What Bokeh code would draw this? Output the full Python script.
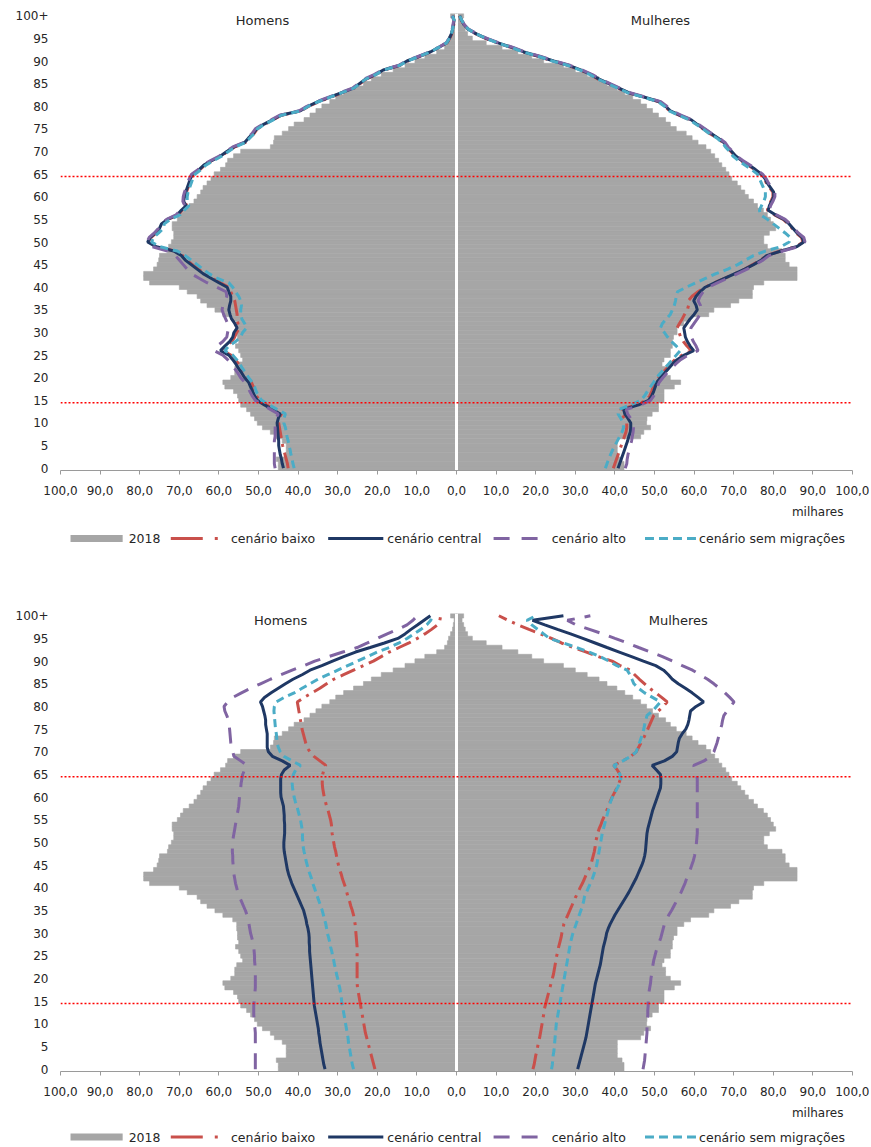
from bokeh.plotting import figure
from bokeh.models import Range1d, FixedTicker, Span, Label, Title, ColumnDataSource
from bokeh.layouts import column
from bokeh.embed import file_html
from bokeh.resources import INLINE
from bokeh.core.properties import value

AGES = list(range(101))
X_TICKS = list(range(-100, 101, 10))
Y_TICKS = list(range(0, 101, 5))
SERIES = ["cenário baixo", "cenário central", "cenário alto", "cenário sem migrações"]

MALE_2018 = [
    45.0, 45.0, 45.5, 43.0, 43.0, 43.0, 44.0, 46.0, 47.0, 49.0,
    50.3, 51.0, 52.0, 53.0, 54.5, 55.0, 55.3, 56.3, 58.5, 59.0,
    57.0, 56.0, 56.0, 55.5, 54.0, 54.5, 55.0, 55.8, 55.0, 55.3,
    55.3, 55.5, 55.5, 56.5, 59.0, 61.0, 63.0, 64.6, 65.5, 68.0,
    70.0, 77.5, 79.0, 79.0, 76.5, 75.6, 75.2, 75.0, 73.0, 72.7,
    72.0, 71.4, 71.4, 71.8, 71.8, 70.5, 69.7, 69.0, 67.5, 66.3,
    65.5, 64.6, 64.0, 63.0, 62.0, 61.2, 59.6, 58.3, 57.8, 56.3,
    54.5, 47.0, 46.2, 46.0, 44.0, 42.4, 41.0, 38.5, 37.0, 35.5,
    34.0, 32.0, 30.5, 28.5, 26.0, 23.5, 21.5, 19.0, 16.0, 13.0,
    10.5, 8.0, 5.0, 3.0, 2.3, 2.0, 1.5, 1.0, 0.8, 0.6, 1.5]
FEMALE_2018 = [
    42.3, 42.3, 41.8, 40.6, 40.6, 40.6, 40.6, 46.5, 47.3, 49.0,
    48.0, 48.1, 49.4, 51.0, 51.0, 52.4, 52.4, 52.4, 55.0, 56.6,
    54.0, 52.8, 52.8, 51.9, 52.4, 54.0, 54.0, 54.5, 54.5, 54.8,
    55.7, 55.7, 57.4, 59.1, 63.7, 65.0, 69.2, 71.3, 74.7, 74.7,
    75.0, 77.6, 86.0, 86.0, 86.0, 84.0, 83.0, 83.0, 82.2, 78.5,
    77.6, 77.6, 79.0, 80.6, 80.0, 79.3, 78.5, 77.5, 76.0, 75.0,
    73.7, 72.8, 71.8, 70.9, 69.5, 68.8, 68.0, 67.0, 66.2, 65.2,
    64.2, 63.0, 61.0, 59.5, 58.0, 55.5, 54.0, 52.8, 51.0, 49.5,
    48.0, 46.5, 44.5, 42.5, 40.5, 38.0, 36.0, 33.0, 30.0, 27.0,
    22.0, 19.0, 15.5, 11.5, 7.5, 4.0, 2.8, 2.2, 1.8, 1.4, 1.8]

# ---- first pyramid: projection lines ----
TOP_M_BAIXO = [
    42.5, 42.7, 43.0, 43.3, 43.6, 43.9, 44.1, 44.3, 44.5, 44.7,
    44.9, 44.7, 44.2, 46.0, 48.0, 49.8, 50.5, 51.0, 51.3, 51.8,
    52.8, 53.5, 54.3, 55.0, 55.8, 57.0, 59.0, 58.0, 56.8, 56.0,
    55.5, 54.8, 55.2, 55.5, 55.4, 55.6, 55.8, 56.0, 56.5, 57.0,
    57.5, 59.6, 61.6, 63.6, 65.2, 66.7, 68.2, 69.2, 71.2, 75.8,
    77.8, 77.1, 75.8, 74.8, 74.3, 72.8, 70.3, 69.3, 68.1, 68.7,
    68.5, 68.2, 67.8, 67.4, 67.0, 66.4, 64.8, 63.6, 61.6, 59.4,
    57.8, 56.0, 53.3, 52.3, 51.1, 50.3, 48.5, 46.3, 44.2, 39.2,
    37.3, 34.8, 31.8, 28.8, 25.8, 24.3, 22.8, 20.3, 18.3, 14.3,
    12.3, 9.3, 6.5, 4.4, 2.4, 1.7, 1.2, 0.9, 0.7, 0.5, 0.9]
TOP_M_CENTRAL = [
    43.7, 44.0, 44.2, 44.5, 44.7, 44.9, 44.9, 45.0, 45.1, 45.2,
    45.3, 45.0, 44.5, 46.5, 48.5, 50.3, 51.0, 51.5, 52.0, 52.5,
    53.5, 54.2, 55.0, 55.7, 56.5, 57.5, 59.6, 58.5, 57.3, 56.5,
    56.2, 55.4, 56.0, 56.8, 57.2, 57.5, 57.3, 57.0, 57.0, 57.5,
    57.9, 60.0, 62.0, 64.0, 65.5, 67.0, 68.5, 69.5, 71.4, 76.0,
    78.0, 77.3, 76.0, 75.0, 74.5, 73.0, 70.5, 69.5, 68.3, 68.9,
    68.7, 68.4, 68.0, 67.6, 67.2, 66.6, 65.0, 63.8, 61.8, 59.6,
    58.0, 56.2, 53.5, 52.5, 51.3, 50.5, 48.7, 46.5, 44.4, 39.4,
    37.5, 35.0, 32.0, 29.0, 26.0, 24.5, 23.0, 20.5, 18.5, 14.5,
    12.5, 9.5, 6.6, 4.5, 2.5, 1.8, 1.3, 1.0, 0.8, 0.6, 1.0]
TOP_M_ALTO = [
    45.8, 46.0, 46.0, 46.0, 46.0, 46.0, 46.0, 45.8, 45.8, 45.8,
    45.8, 45.6, 45.0, 47.0, 49.0, 50.8, 51.6, 52.2, 52.8, 53.5,
    54.5, 55.2, 56.0, 56.8, 57.8, 59.0, 61.2, 60.5, 59.0, 58.0,
    57.8, 57.5, 57.8, 58.3, 58.8, 59.2, 59.0, 58.5, 58.0, 58.2,
    60.5, 63.0, 65.0, 67.0, 68.0, 69.0, 70.0, 71.0, 73.0, 77.0,
    78.2, 77.6, 76.3, 75.3, 74.8, 73.2, 70.8, 69.8, 68.6, 69.1,
    69.0, 68.7, 68.3, 67.9, 67.5, 66.9, 65.3, 64.1, 62.1, 59.9,
    58.3, 56.5, 53.8, 52.8, 51.6, 50.8, 49.0, 46.8, 44.7, 39.7,
    37.8, 35.3, 32.3, 29.3, 26.3, 24.8, 23.3, 20.8, 18.7, 14.7,
    12.7, 9.7, 6.8, 4.6, 2.6, 1.9, 1.4, 1.1, 0.9, 0.7, 1.1]
TOP_M_SEM = [
    41.0, 41.3, 41.5, 41.8, 42.0, 42.3, 42.5, 42.8, 43.0, 43.2,
    43.6, 43.6, 43.2, 45.3, 47.3, 49.2, 50.0, 50.6, 51.0, 51.6,
    52.5, 53.2, 54.0, 54.7, 55.5, 56.5, 58.5, 57.5, 55.8, 54.5,
    54.0, 53.0, 53.5, 54.2, 54.5, 54.5, 54.3, 54.5, 55.0, 55.8,
    56.5, 57.5, 60.5, 62.5, 64.0, 65.5, 67.0, 68.5, 70.5, 75.0,
    77.0, 76.5, 75.2, 74.0, 73.8, 72.3, 69.8, 68.8, 67.6, 68.0,
    68.0, 67.8, 67.4, 67.0, 66.6, 66.0, 64.5, 63.3, 61.3, 59.2,
    57.6, 55.9, 53.2, 52.2, 51.0, 50.3, 48.5, 46.3, 44.2, 39.3,
    37.4, 34.9, 31.9, 28.9, 25.9, 24.4, 22.9, 20.4, 18.4, 14.4,
    12.4, 9.4, 6.6, 4.5, 2.5, 1.8, 1.3, 1.0, 0.8, 0.6, 1.0]
TOP_F_BAIXO = [
    39.6, 40.0, 40.4, 40.8, 41.2, 41.6, 42.0, 42.4, 42.8, 43.0,
    43.0, 42.4, 41.7, 41.5, 45.3, 47.9, 48.8, 49.3, 49.7, 50.1,
    51.0, 52.0, 53.0, 54.0, 55.2, 57.0, 59.3, 58.2, 57.3, 56.6,
    56.2, 55.7, 56.3, 57.0, 57.6, 58.3, 58.6, 58.5, 59.5, 61.0,
    62.7, 65.2, 67.8, 70.3, 72.8, 74.8, 76.8, 78.3, 81.8, 85.8,
    87.5, 87.1, 85.8, 84.8, 83.8, 82.5, 80.3, 78.5, 78.8, 79.4,
    79.9, 79.9, 79.1, 78.3, 77.7, 76.8, 75.3, 73.6, 71.8, 70.3,
    69.3, 68.1, 67.3, 65.8, 63.9, 62.3, 60.6, 58.9, 56.3, 53.8,
    52.6, 51.1, 47.3, 43.3, 40.8, 38.3, 35.8, 33.8, 31.3, 28.3,
    24.3, 20.8, 16.8, 13.8, 10.3, 7.3, 4.9, 2.9, 1.8, 1.2, 0.8]
TOP_F_CENTRAL = [
    40.8, 41.2, 41.6, 42.0, 42.4, 42.8, 43.2, 43.5, 43.9, 44.0,
    44.0, 43.3, 42.5, 42.2, 46.0, 48.5, 49.3, 49.8, 50.2, 50.6,
    51.5, 52.5, 53.5, 54.5, 55.7, 57.5, 59.9, 59.0, 58.3, 57.8,
    57.6, 57.4, 58.2, 59.0, 60.0, 60.8, 60.5, 59.9, 60.5, 61.5,
    62.8, 65.3, 67.8, 70.3, 72.8, 75.0, 77.0, 78.3, 82.0, 86.0,
    87.7, 87.3, 86.0, 85.0, 84.0, 82.7, 80.5, 78.7, 79.0, 79.6,
    80.1, 80.1, 79.3, 78.5, 77.9, 77.0, 75.5, 73.8, 72.0, 70.5,
    69.5, 68.3, 67.5, 66.0, 64.3, 62.5, 60.8, 59.3, 56.5, 54.0,
    52.8, 51.3, 47.5, 43.5, 41.0, 38.5, 36.0, 34.0, 31.5, 28.5,
    24.5, 21.0, 17.0, 14.0, 10.5, 7.5, 5.0, 3.0, 1.9, 1.3, 0.8]
TOP_F_ALTO = [
    42.6, 43.0, 43.1, 43.3, 43.6, 43.9, 44.2, 44.4, 44.6, 44.7,
    44.7, 44.0, 43.2, 42.9, 46.6, 49.0, 49.8, 50.3, 50.7, 51.2,
    52.1, 53.1, 54.2, 55.3, 56.6, 58.5, 61.0, 60.5, 59.8, 59.3,
    59.0, 59.2, 60.0, 60.8, 61.5, 61.8, 61.6, 61.0, 61.5, 62.3,
    63.6, 66.0, 68.5, 71.0, 73.4, 75.4, 77.4, 78.9, 82.4, 86.4,
    88.0, 87.7, 86.3, 85.3, 84.3, 83.0, 80.8, 79.0, 79.3, 79.9,
    80.4, 80.4, 79.6, 78.8, 78.2, 77.3, 75.8, 74.1, 72.3, 70.8,
    69.8, 68.6, 67.8, 66.3, 64.4, 62.8, 61.1, 59.4, 56.8, 54.3,
    53.1, 51.6, 47.8, 43.8, 41.3, 38.8, 36.3, 34.3, 31.8, 28.8,
    24.8, 21.3, 17.3, 14.3, 10.8, 7.7, 5.2, 3.1, 2.0, 1.4, 0.9]
TOP_F_SEM = [
    37.6, 38.0, 38.4, 38.9, 39.4, 40.0, 40.6, 41.2, 41.8, 42.2,
    42.0, 41.5, 40.8, 41.0, 44.0, 46.5, 47.5, 48.2, 49.0, 49.8,
    50.5, 51.5, 52.5, 53.5, 54.5, 55.5, 56.5, 55.5, 54.3, 53.3,
    52.5, 51.5, 52.0, 53.0, 54.0, 54.5, 55.0, 55.3, 55.5, 55.8,
    58.0, 60.5, 63.0, 65.5, 68.5, 71.0, 73.0, 75.0, 78.0, 82.0,
    84.0, 84.3, 83.0, 81.5, 80.0, 78.5, 76.8, 76.5, 77.0, 77.6,
    78.0, 78.0, 77.5, 77.0, 76.5, 76.0, 74.5, 72.8, 71.2, 69.8,
    69.0, 67.9, 67.1, 65.7, 63.8, 62.2, 60.5, 58.8, 56.2, 53.7,
    52.5, 51.0, 47.2, 43.2, 40.7, 38.2, 35.7, 33.7, 31.2, 28.2,
    24.2, 20.7, 16.8, 13.8, 10.4, 7.4, 5.0, 3.0, 1.9, 1.3, 0.8]

# ---- second pyramid: projection lines ----
BOT_M_BAIXO = [
    20.6, 20.9, 21.2, 21.5, 21.8, 22.1, 22.4, 22.7, 23.0, 23.2,
    23.4, 23.6, 23.8, 24.0, 24.2, 24.4, 24.6, 24.8, 25.0, 25.1,
    25.1, 25.1, 25.1, 25.1, 25.1, 25.1, 25.1, 25.1, 25.2, 25.3,
    25.4, 25.5, 25.6, 25.8, 26.0, 26.3, 26.7, 27.0, 27.4, 27.7,
    28.0, 28.4, 28.8, 29.1, 29.5, 29.8, 30.1, 30.3, 30.5, 30.8,
    31.0, 31.2, 31.4, 31.5, 31.6, 31.8, 32.1, 32.4, 32.8, 33.1,
    33.4, 33.6, 33.8, 33.9, 33.9, 33.8, 33.5, 33.0, 34.5, 36.0,
    37.0, 37.8, 38.1, 38.4, 38.7, 39.0, 39.2, 39.4, 39.6, 39.8,
    40.0, 40.2, 38.5, 36.5, 34.5, 32.8, 31.0, 28.5, 26.0, 23.5,
    21.0, 19.0, 17.0, 14.5, 12.0, 9.9, 8.0, 6.3, 4.8, 4.2, 4.0]
BOT_M_CENTRAL = [
    33.2, 33.5, 33.7, 33.9, 34.1, 34.3, 34.5, 34.6, 34.8, 34.9,
    35.1, 35.3, 35.5, 35.7, 35.9, 36.0, 36.1, 36.2, 36.3, 36.4,
    36.5, 36.6, 36.7, 36.8, 36.9, 37.0, 37.1, 37.1, 37.2, 37.2,
    37.3, 37.5, 37.8, 38.0, 38.3, 38.6, 39.1, 39.6, 40.1, 40.6,
    41.1, 41.6, 42.0, 42.4, 42.7, 42.9, 43.1, 43.3, 43.5, 43.6,
    43.6, 43.5, 43.4, 43.4, 43.4, 43.5, 43.5, 43.6, 43.7, 44.0,
    44.3, 44.4, 44.4, 44.4, 44.4, 44.2, 43.5, 42.0, 44.0, 46.5,
    47.5, 47.8, 47.8, 47.8, 47.8, 48.0, 48.2, 48.2, 48.4, 48.7,
    49.0, 49.5, 48.5, 46.8, 45.0, 43.2, 41.3, 39.0, 37.0, 34.0,
    31.3, 28.5, 25.5, 21.8, 18.2, 14.8, 13.0, 11.5, 9.8, 8.2, 6.6]
BOT_M_ALTO = [
    50.8, 50.8, 50.8, 50.8, 50.8, 50.8, 50.8, 50.8, 50.8, 50.9,
    51.0, 51.1, 51.2, 51.2, 51.2, 51.1, 51.0, 50.9, 50.8, 50.8,
    50.8, 50.8, 50.9, 50.9, 51.0, 51.0, 51.1, 51.2, 51.4, 51.7,
    52.0, 52.2, 52.4, 52.6, 52.9, 53.3, 53.8, 54.3, 54.8, 55.2,
    55.5, 55.8, 56.0, 56.2, 56.3, 56.4, 56.5, 56.5, 56.6, 56.6,
    56.5, 56.4, 56.2, 56.0, 55.8, 55.6, 55.4, 55.2, 55.0, 54.9,
    54.8, 54.7, 54.5, 54.4, 54.2, 54.0, 53.5, 52.9, 54.5, 56.2,
    56.5, 56.8, 57.0, 57.1, 57.2, 57.3, 57.4, 57.6, 58.0, 58.5,
    58.7, 57.8, 56.5, 54.3, 52.0, 49.5, 47.0, 44.3, 41.5, 38.5,
    35.8, 32.3, 28.7, 25.1, 22.5, 20.0, 17.5, 14.8, 12.5, 11.0, 9.9]
BOT_M_SEM = [
    26.0, 26.3, 26.5, 26.7, 26.9, 27.1, 27.3, 27.4, 27.6, 27.8,
    28.0, 28.2, 28.4, 28.6, 28.8, 29.0, 29.1, 29.3, 29.5, 29.8,
    30.0, 30.3, 30.5, 30.8, 31.0, 31.3, 31.5, 31.8, 32.0, 32.3,
    32.6, 32.8, 33.0, 33.3, 33.6, 33.9, 34.3, 34.7, 35.1, 35.5,
    35.9, 36.3, 36.6, 37.0, 37.4, 37.7, 38.0, 38.2, 38.5, 38.7,
    38.8, 38.9, 38.9, 39.0, 39.2, 39.4, 39.7, 40.0, 40.3, 40.7,
    41.0, 41.2, 41.4, 41.5, 41.4, 41.2, 40.6, 39.4, 41.5, 43.6,
    44.5, 45.0, 45.3, 45.4, 45.5, 45.7, 45.8, 45.9, 46.0, 46.1,
    46.0, 45.5, 43.5, 41.0, 39.0, 37.0, 35.0, 32.5, 30.0, 27.5,
    25.0, 22.5, 20.0, 17.0, 14.5, 12.5, 10.8, 9.0, 7.5, 6.5, 6.2]
BOT_F_BAIXO = [
    19.3, 19.6, 19.8, 20.0, 20.3, 20.5, 20.7, 21.0, 21.2, 21.4,
    21.6, 21.8, 22.0, 22.1, 22.4, 22.7, 23.0, 23.3, 23.6, 23.9,
    24.2, 24.5, 24.7, 24.9, 25.1, 25.3, 25.6, 25.8, 26.1, 26.4,
    26.6, 26.9, 27.1, 27.6, 28.1, 28.6, 29.1, 29.6, 30.1, 30.7,
    31.2, 31.8, 32.3, 32.8, 33.4, 33.9, 34.2, 34.5, 34.8, 35.0,
    35.1, 35.4, 35.6, 36.0, 36.5, 36.9, 37.4, 37.9, 38.4, 38.8,
    39.3, 39.9, 40.5, 41.0, 41.4, 41.3, 40.6, 39.7, 42.0, 44.0,
    45.4, 46.0, 46.6, 47.2, 47.8, 48.3, 48.8, 49.3, 49.8, 51.0,
    52.2, 53.2, 51.8, 50.3, 48.8, 47.5, 46.2, 45.0, 43.9, 41.3,
    39.3, 35.8, 32.8, 29.5, 26.5, 24.0, 21.2, 18.3, 15.5, 13.0, 10.7]
BOT_F_CENTRAL = [
    30.6, 30.9, 31.2, 31.5, 31.8, 32.1, 32.4, 32.7, 32.9, 33.1,
    33.3, 33.5, 33.7, 33.9, 34.1, 34.3, 34.5, 34.7, 34.9, 35.1,
    35.4, 35.7, 36.0, 36.3, 36.5, 36.7, 36.9, 37.1, 37.4, 37.7,
    37.9, 38.3, 38.8, 39.4, 40.0, 40.7, 41.4, 42.1, 42.8, 43.5,
    44.1, 44.7, 45.3, 45.8, 46.3, 46.8, 47.2, 47.5, 47.7, 47.8,
    47.9, 48.0, 48.1, 48.3, 48.6, 48.9, 49.2, 49.5, 49.9, 50.3,
    50.7, 51.1, 51.5, 51.6, 51.6, 51.5, 50.5, 49.4, 52.5, 54.5,
    55.6, 55.8, 56.0, 56.3, 57.0, 57.9, 58.4, 58.7, 58.9, 59.1,
    60.5, 62.4, 61.0, 59.5, 57.8, 56.0, 54.5, 53.5, 52.3, 50.3,
    47.2, 44.2, 41.1, 38.0, 35.0, 31.9, 28.8, 25.5, 22.3, 19.2, 27.0]
BOT_F_ALTO = [
    47.1, 47.3, 47.5, 47.6, 47.7, 47.8, 47.9, 48.0, 48.1, 48.1,
    48.2, 48.2, 48.3, 48.3, 48.4, 48.4, 48.5, 48.6, 48.8, 49.0,
    49.1, 49.3, 49.4, 49.6, 49.8, 50.1, 50.4, 50.8, 51.2, 51.6,
    51.9, 52.2, 52.5, 53.0, 53.6, 54.3, 54.9, 55.5, 56.1, 56.7,
    57.2, 57.7, 58.1, 58.6, 59.0, 59.4, 59.8, 60.1, 60.3, 60.5,
    60.6, 60.7, 60.8, 60.8, 60.8, 60.8, 60.8, 60.8, 60.8, 60.8,
    60.8, 60.8, 60.8, 60.8, 60.8, 60.6, 60.3, 59.9, 62.5, 64.3,
    65.0, 65.4, 65.8, 66.1, 66.4, 66.7, 67.0, 67.2, 67.5, 68.3,
    69.2, 70.1, 69.0, 67.8, 66.4, 65.0, 63.4, 61.5, 59.6, 57.0,
    54.6, 52.0, 49.0, 46.0, 43.2, 40.0, 37.0, 33.6, 30.2, 28.0, 33.8]
BOT_F_SEM = [
    24.0, 24.2, 24.3, 24.4, 24.6, 24.7, 24.8, 24.9, 25.0, 25.1,
    25.2, 25.4, 25.6, 25.8, 26.0, 26.2, 26.4, 26.6, 26.8, 27.0,
    27.2, 27.4, 27.6, 27.8, 28.0, 28.2, 28.4, 28.6, 28.8, 29.1,
    29.4, 29.8, 30.2, 30.6, 31.0, 31.4, 31.8, 32.1, 32.3, 32.8,
    33.3, 33.8, 34.3, 34.7, 35.1, 35.4, 35.6, 35.8, 36.0, 36.2,
    36.4, 36.6, 36.8, 37.1, 37.4, 37.7, 38.0, 38.3, 38.6, 38.9,
    39.4, 40.0, 40.6, 41.2, 41.5, 41.3, 40.6, 39.7, 42.0, 44.0,
    45.4, 45.8, 46.2, 46.6, 47.0, 47.3, 47.5, 47.8, 48.1, 49.5,
    50.5, 51.5, 49.5, 47.5, 46.0, 44.8, 44.3, 43.8, 43.1, 40.5,
    38.5, 36.2, 33.5, 30.3, 27.0, 23.5, 22.0, 20.5, 19.0, 17.8, 20.0]

GRAY = "#A6A6A6"
STYLES = [
    dict(color="#C9504B", dash="16 6 3 6", legend_dash="32 12 3 60"),  # baixo
    dict(color="#1F3864", dash="solid", legend_dash="solid"),           # central
    dict(color="#8064A2", dash="16 10", legend_dash="16 12"),           # alto
    dict(color="#4BACC6", dash="8 5", legend_dash="9 5"),               # sem migrações
]
FONT = "DejaVu Sans"
TXT = "#262626"


def pyramid(males, females, homens_x, mulheres_x, top, bottom, frame_h):
    p = figure(frame_width=792, frame_height=frame_h, x_range=Range1d(-100, 100),
               y_range=Range1d(-0.5, 100.5), output_backend="svg",
               toolbar_location=None, min_border_left=60, min_border_right=17,
               min_border_top=top, min_border_bottom=bottom)
    p.outline_line_color = None
    p.xgrid.visible = False
    p.ygrid.visible = False

    src = ColumnDataSource(dict(age=AGES, m=[-v for v in MALE_2018], f=FEMALE_2018))
    p.hbar(y="age", left="m", right=0, height=1, source=src,
           fill_color=GRAY, line_color=GRAY, line_width=0.6)
    p.hbar(y="age", left=0, right="f", height=1, source=src,
           fill_color=GRAY, line_color=GRAY, line_width=0.6)
    # white separation between the sexes
    p.segment(x0=[0], y0=[-0.5], x1=[0], y1=[100.5], line_color="white", line_width=3)

    for ms, fs, st in zip(males, females, STYLES):
        p.line(x=[-v for v in ms], y=AGES, line_color=st["color"],
               line_dash=st["dash"], line_width=3)
        p.line(x=fs, y=AGES, line_color=st["color"], line_dash=st["dash"], line_width=3)

    for loc in (64.5, 14.5):
        p.add_layout(Span(location=loc, dimension="width", line_color="#FF0000",
                          line_dash="2 2", line_width=1.5))

    for txt, x in (("Homens", homens_x), ("Mulheres", mulheres_x)):
        p.add_layout(Label(x=x, y=99.0, text=txt, text_align="center",
                           text_baseline="middle", text_font=FONT,
                           text_font_size="13px", text_color=TXT))

    p.xaxis.ticker = FixedTicker(ticks=X_TICKS)
    p.xaxis.major_label_overrides = {t: f"{abs(t)},0" for t in X_TICKS}
    p.xaxis.axis_line_color = "#9A9A9A"
    p.xaxis.major_tick_line_color = "#9A9A9A"
    p.xaxis.major_tick_out = 4
    p.xaxis.major_tick_in = 0
    p.xaxis.minor_tick_line_color = None
    p.xaxis.major_label_standoff = 11
    p.xaxis.major_label_text_font = FONT
    p.xaxis.major_label_text_font_size = "12px"
    p.xaxis.major_label_text_color = TXT

    p.yaxis.ticker = FixedTicker(ticks=Y_TICKS)
    p.yaxis.major_label_overrides = {100: "100+"}
    p.yaxis.axis_line_color = None
    p.yaxis.major_tick_line_color = None
    p.yaxis.minor_tick_line_color = None
    p.yaxis.major_label_standoff = 6
    p.yaxis.major_label_text_font = FONT
    p.yaxis.major_label_text_font_size = "12px"
    p.yaxis.major_label_text_color = TXT

    p.add_layout(Title(text="milhares", align="right", text_font=FONT,
                       text_font_size="12px", text_font_style="normal",
                       text_color=TXT, standoff=10, offset=9), "below")
    return p


# legend strip layout (page-pixel positions of the key swatches and their labels)
KEY_X0 = [170, 327, 492, 643]
KEY_X1 = [222, 382, 540, 695]
LABEL_X = [230, 386, 550, 697]


def legend_strip(height):
    # the strip's frame is aligned with the pyramids' frames (page x 60..852),
    # so this x range makes its coordinates equal to page pixels
    lg = figure(width=871, height=height, x_range=Range1d(60, 852),
                y_range=Range1d(0, height), x_axis_type=None, y_axis_type=None,
                output_backend="svg", toolbar_location=None, min_border=0)
    lg.outline_line_color = None
    lg.xgrid.visible = False
    lg.ygrid.visible = False
    c = height / 2.0
    lg.quad(left=[70], right=[122], bottom=[c - 3.5], top=[c + 3.5],
            fill_color=GRAY, line_color=None)
    lg.text(x=[128], y=[c], text=["2018"], text_baseline="middle",
            text_font=value(FONT), text_font_size=value("12.5px"), text_color=TXT)
    for x0, x1, lx, name, st in zip(KEY_X0, KEY_X1, LABEL_X, SERIES, STYLES):
        lg.segment(x0=[x0], y0=[c], x1=[x1], y1=[c], line_color=st["color"],
                   line_dash=st["legend_dash"], line_width=3)
        lg.text(x=[lx], y=[c], text=[name], text_baseline="middle",
                text_font=value(FONT), text_font_size=value("12.5px"), text_color=TXT)
    return lg


p1 = pyramid([TOP_M_BAIXO, TOP_M_CENTRAL, TOP_M_ALTO, TOP_M_SEM],
             [TOP_F_BAIXO, TOP_F_CENTRAL, TOP_F_ALTO, TOP_F_SEM],
             -49, 51.5, 13, 58, 457)
l1 = legend_strip(20)
p2 = pyramid([BOT_M_BAIXO, BOT_M_CENTRAL, BOT_M_ALTO, BOT_M_SEM],
             [BOT_F_BAIXO, BOT_F_CENTRAL, BOT_F_ALTO, BOT_F_SEM],
             -44.4, 56, 65, 55, 458)
l2 = legend_strip(21)

page = column(p1, l1, p2, l2, spacing=0)
open("out.html", "w").write(file_html(page, INLINE))
